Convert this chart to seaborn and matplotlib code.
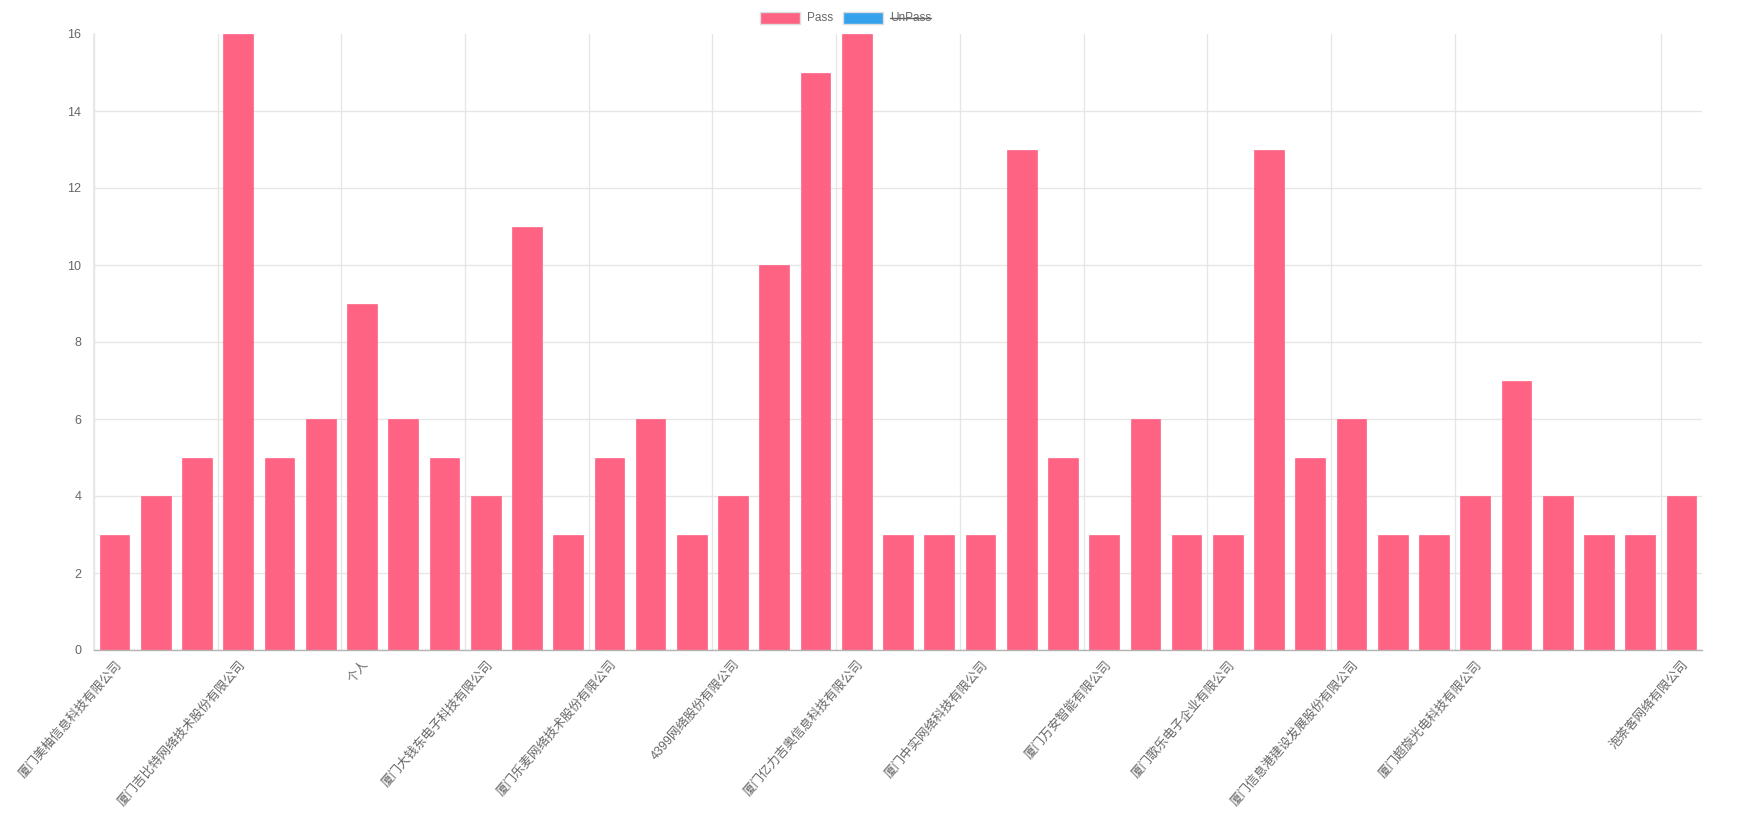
import matplotlib
matplotlib.use('Agg')
import matplotlib.pyplot as plt
from matplotlib.patches import Rectangle
from matplotlib.lines import Line2D
import seaborn as sns
import pandas as pd
import numpy as np

# Pass counts per company (UnPass dataset is hidden in the legend)
pass_counts = [3, 4, 5, 16, 5, 6, 9, 6, 5, 4, 11, 3, 5, 6, 3, 4, 10, 15, 16,
               3, 3, 3, 13, 5, 3, 6, 3, 3, 13, 5, 6, 3, 3, 4, 7, 4, 3, 3, 4]

# only every few labels are readable on the chart (auto-skipped ticks)
companies = [''] * len(pass_counts)
shown_labels = {
    0: '厦门美柚信息科技有限公司',
    3: '厦门吉比特网络技术股份有限公司',
    6: '个人',
    9: '厦门大钱东电子科技有限公司',
    12: '厦门乐麦网络技术股份有限公司',
    15: '4399网络股份有限公司',
    18: '厦门亿力吉奥信息科技有限公司',
    21: '厦门中实网络科技有限公司',
    24: '厦门万安智能有限公司',
    27: '厦门歌乐电子企业有限公司',
    30: '厦门信息港建设发展股份有限公司',
    33: '厦门超旋光电科技有限公司',
    38: '泡茶客网络有限公司',
}
for k, v in shown_labels.items():
    companies[k] = v

y_ticks = [0, 2, 4, 6, 8, 10, 12, 14, 16]
legend_names = ['Pass', 'UnPass']
legend_colors = ['#FF6384', '#36A2EB']

sns.set_theme(style='white')
plt.rcParams['font.family'] = ['Liberation Sans', 'Noto Sans CJK SC', 'DejaVu Sans']

W, H = 1749, 817
fig = plt.figure(figsize=(W / 100, H / 100), dpi=100)
left, right, top, bottom = 94, 1702, 34, 650
ax = fig.add_axes([left / W, 1 - bottom / H, (right - left) / W, (bottom - top) / H])

df = pd.DataFrame({'idx': [str(i) for i in range(len(pass_counts))], 'count': pass_counts})
sns.barplot(data=df, x='idx', y='count', color=legend_colors[0], saturation=1,
            width=0.72, ax=ax, order=df['idx'])
for p in ax.patches:
    p.set_edgecolor(legend_colors[0])
    p.set_linewidth(0.5)

ax.set_xlim(-0.5, len(pass_counts) - 0.5)
ax.set_ylim(0, 16)
ax.set_xlabel('')
ax.set_ylabel('')

grid_c = '#e6e6e6'
ax.set_yticks(y_ticks)
ax.set_yticklabels([str(t) for t in y_ticks], fontsize=9, color='#666666')
ax.tick_params(axis='y', length=0, pad=9)
ax.yaxis.grid(True, color=grid_c, linewidth=1)
ax.yaxis.get_gridlines()[-1].set_visible(False)

shown = [i for i, c in enumerate(companies) if c]
ax.set_xticks(shown)
ax.set_xticklabels([companies[i] for i in shown], rotation=49, ha='right', va='top',
                   rotation_mode='anchor', fontsize=9, color='#666666')
ax.tick_params(axis='x', which='major', length=0, pad=6)
ax.set_xticks([i - 0.5 for i in shown], minor=True)
ax.tick_params(axis='x', which='minor', length=7, color=grid_c, width=1, direction='out')
for i in shown:
    ax.axvline(i - 0.5, color=grid_c, linewidth=1, zorder=0)

ax.set_axisbelow(True)
for s in ['top', 'right']:
    ax.spines[s].set_visible(False)
ax.spines['left'].set_color(grid_c)
ax.spines['bottom'].set_color('#b3b3b3')
ax.spines['bottom'].set_linewidth(1)

# legend, drawn by hand so the hidden dataset can be struck through
def fx(px):
    return px / W

def fy(py):
    return 1 - py / H

box_x = [760, 843]
text_x = [807, 890]
for name, col, bx, tx in zip(legend_names, legend_colors, box_x, text_x):
    fig.patches.append(Rectangle((fx(bx), fy(24)), fx(40), 12 / H, transform=fig.transFigure,
                                 facecolor=col, edgecolor='#dddddd', linewidth=1))
    fig.text(fx(tx), fy(18), name, ha='left', va='center', fontsize=8.5, color='#666666')

fig.canvas.draw()
t = fig.texts[-1]
bb = t.get_window_extent()
fig.lines.append(Line2D([bb.x0 / W, bb.x1 / W], [fy(18), fy(18)], transform=fig.transFigure,
                        color='#666666', linewidth=1))

fig.savefig('out.png', dpi=100, facecolor='white')
